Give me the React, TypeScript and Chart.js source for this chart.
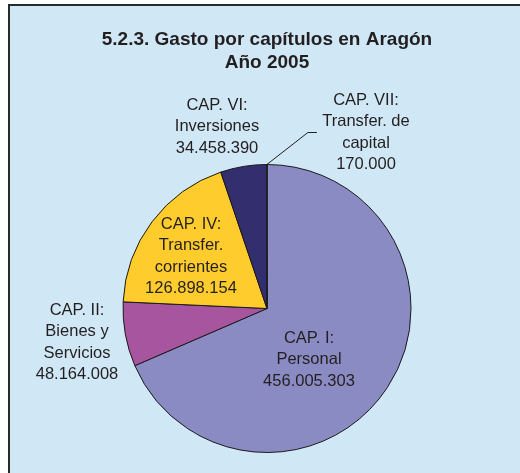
import React, { useEffect, useRef } from "react";
import { Chart, registerables } from "chart.js";

Chart.register(...registerables);

const titleLines = ["5.2.3. Gasto por capítulos en Aragón", "Año 2005"];
const chapters = ["CAP. I:", "CAP. II:", "CAP. IV:", "CAP. VI:", "CAP. VII:"];
const chapterNames = [["Personal"], ["Bienes y", "Servicios"], ["Transfer.", "corrientes"], ["Inversiones"], ["Transfer. de", "capital"]];
const amounts = [456005303, 48164008, 126898154, 34458390, 170000];
const sliceColors = ["#8B8BC4", "#A855A0", "#FFCC2E", "#332F6F", "#6B6BB0"];

// label layout (text centre x, first line y) – styling only
const labelLayout = [
  { x: 309, y: 338 },
  { x: 77, y: 310 },
  { x: 191, y: 224 },
  { x: 217, y: 105 },
  { x: 366, y: 100 },
];

const fmt = (n: number) => String(n).replace(/\B(?=(\d{3})+(?!\d))/g, ".");

const decoPlugin = {
  id: "deco",
  beforeDraw(chart: any) {
    const ctx = chart.ctx;
    ctx.save();
    ctx.fillStyle = "#ffffff";
    ctx.fillRect(0, 0, chart.width, chart.height);
    ctx.fillStyle = "#D0E7F5";
    ctx.fillRect(9, 5, chart.width - 9, chart.height - 5);
    ctx.strokeStyle = "#2a2a2a";
    ctx.lineWidth = 2;
    ctx.beginPath();
    ctx.moveTo(9, chart.height);
    ctx.lineTo(9, 5);
    ctx.lineTo(chart.width, 5);
    ctx.stroke();
    ctx.restore();
  },
  afterDraw(chart: any) {
    const ctx = chart.ctx;
    const meta = chart.getDatasetMeta(0);
    const arc0 = meta.data[0];
    const cx = arc0.x;
    const cy = arc0.y;
    const r = arc0.outerRadius;
    ctx.save();
    ctx.fillStyle = "#231F20";
    ctx.textAlign = "center";
    ctx.textBaseline = "middle";
    ctx.font = "bold 19px 'Liberation Sans', Arial, sans-serif";
    titleLines.forEach((t, i) => ctx.fillText(t, cx, 40 + i * 23));

    // leader line for the small slice
    const last = meta.data[4];
    const mid = (last.startAngle + last.endAngle) / 2;
    const sx = cx + Math.cos(mid) * r;
    const sy = cy + Math.sin(mid) * r;
    ctx.strokeStyle = "#231F20";
    ctx.lineWidth = 1;
    ctx.beginPath();
    ctx.moveTo(sx, sy);
    ctx.lineTo(sx + 41, sy - 32);
    ctx.lineTo(sx + 50, sy - 32);
    ctx.stroke();

    ctx.font = "16.5px 'Liberation Sans', Arial, sans-serif";
    amounts.forEach((v, i) => {
      const lines = [chapters[i], ...chapterNames[i], fmt(v)];
      const p = labelLayout[i];
      lines.forEach((l, j) => ctx.fillText(l, p.x, p.y + j * 21.5));
    });
    ctx.restore();
  },
};

export default function App() {
  const ref = useRef<HTMLCanvasElement>(null);
  useEffect(() => {
    if (!ref.current) return;
    const chart = new Chart(ref.current, {
      type: "pie",
      data: {
        labels: chapters.map((c, i) => c + " " + chapterNames[i].join(" ")),
        datasets: [
          {
            data: amounts,
            backgroundColor: sliceColors,
            borderColor: "#1a1a1a",
            borderWidth: 1,
          },
        ],
      },
      options: {
        responsive: false,
        animation: false,
        layout: { padding: { left: 122, right: 108, top: 164, bottom: 20 } },
        plugins: {
          legend: { display: false },
          tooltip: { enabled: false },
          title: { display: false },
        },
      },
      plugins: [decoPlugin],
    });
    return () => chart.destroy();
  }, []);
  return (
    <div style={{ position: "absolute", left: 0, top: 0, width: 520, height: 473 }}>
      <canvas ref={ref} width={520} height={473} style={{ width: 520, height: 473 }} />
    </div>
  );
}
